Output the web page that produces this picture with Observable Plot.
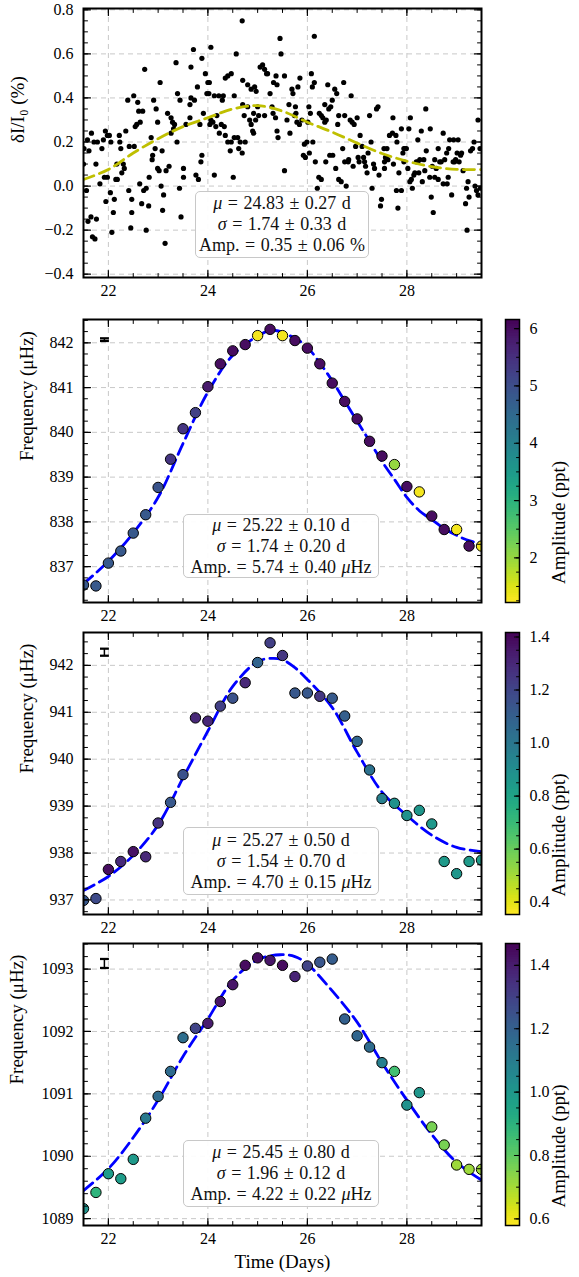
<!DOCTYPE html>
<html><head><meta charset="utf-8">
<script src="https://cdn.jsdelivr.net/npm/d3@7"></script>
<script src="https://cdn.jsdelivr.net/npm/@observablehq/plot@0.6"></script>
<style>
body{margin:0;background:#fff;}
#root{position:relative;width:579px;height:1277px;overflow:hidden;background:#fff;font-family:"Liberation Serif",serif;}
.box{position:absolute;box-sizing:border-box;background:rgba(255,255,255,0.92);border:1.3px solid #c8c8c8;border-radius:5px;display:flex;flex-direction:column;justify-content:center;align-items:center;font-family:"Liberation Serif",serif;font-size:18px;line-height:21px;color:#111;word-spacing:1px;}
</style></head><body><div id="root"></div>
<script>
// ---------- data ----------
// panel 1: relative intensity scatter (days, %)
const t1 = [
21.66,21.58,21.51,21.61,21.50,21.56,21.71,21.78,21.75,21.65,21.59,21.76,21.68,21.73,21.83,21.87,21.94,21.98,21.90,22.02,
22.05,21.92,21.98,21.95,22.04,22.12,22.10,22.07,22.15,22.18,22.17,22.22,22.23,22.25,22.30,22.32,22.27,22.35,22.39,22.41,
22.42,22.52,22.47,22.47,22.45,22.51,22.59,22.54,22.57,22.61,22.69,22.64,22.63,22.67,22.71,22.76,22.73,22.76,22.81,22.82,
22.86,22.89,22.88,22.91,22.96,22.99,22.94,22.99,23.02,23.04,23.06,23.08,23.11,23.09,23.14,23.16,23.19,23.26,23.29,23.33,
23.22,23.26,23.31,23.36,23.39,23.44,23.38,23.43,23.46,
23.51,23.51,23.56,23.66,23.64,23.73,23.66,23.71,23.64,23.76,23.81,23.79,23.84,23.86,23.88,23.88,23.91,23.95,23.98,24.02,
24.00,24.03,24.04,24.06,24.06,24.10,24.13,24.13,24.16,24.18,24.22,24.23,24.27,24.29,24.31,24.33,24.35,24.35,24.40,24.47,
24.40,24.47,24.45,24.51,24.53,24.53,24.57,24.60,24.62,24.65,24.69,24.69,24.70,24.70,24.73,24.75,24.80,24.80,24.84,24.87,
24.87,24.90,24.92,24.92,24.94,24.96,24.97,25.00,25.02,25.05,25.10,25.14,25.14,25.18,25.20,25.25,25.29,25.31,25.32,25.36,
25.37,25.39,25.39,25.41,25.45,25.47,
25.54,25.54,25.63,25.59,25.65,25.69,25.71,25.74,25.77,25.76,25.81,25.79,25.84,25.85,25.89,25.94,25.99,25.92,25.96,26.01,
26.03,26.06,26.04,26.08,26.10,26.14,26.11,26.14,26.16,26.20,26.23,26.28,26.24,26.28,26.31,26.35,26.35,26.37,26.38,26.41,
26.43,26.45,26.51,26.47,26.50,26.55,26.57,26.59,26.61,26.63,26.63,26.68,26.71,26.73,26.75,26.75,26.78,26.82,26.83,26.86,
26.88,26.90,26.92,26.94,26.97,27.00,27.02,27.04,27.06,27.10,27.13,27.15,27.17,27.20,27.22,27.25,27.28,27.30,27.33,27.35,
27.39,27.42,27.44,27.47,27.49,
27.54,27.57,27.55,27.60,27.62,27.55,27.65,27.71,27.72,27.73,27.78,27.80,27.79,27.89,27.82,27.84,27.89,27.92,27.94,27.96,
27.99,27.94,28.02,28.04,28.07,28.06,28.09,28.11,28.14,28.16,28.19,28.22,28.22,28.24,28.26,28.29,28.31,28.34,28.36,28.38,
28.39,28.46,28.47,28.49,28.51,28.53,28.56,28.56,28.59,28.63,28.63,28.66,28.69,28.73,28.73,28.76,28.80,28.81,28.83,28.84,
28.86,28.90,28.93,28.94,28.96,28.98,29.01,29.03,29.05,29.08,29.10,29.13,29.18,29.20,29.21,29.23,29.25,29.28,29.32,29.35,
29.37,29.40,29.43,29.43,29.47,29.48];
const v1 = [
0.24,0.21,0.17,0.16,0.10,-0.02,0.20,0.20,0.10,-0.14,-0.16,-0.15,-0.23,-0.24,0.01,0.17,0.25,0.23,0.21,0.23,
0.20,0.04,0.04,-0.07,-0.03,-0.06,-0.12,-0.21,0.03,0.03,0.10,0.23,0.20,0.17,0.10,0.08,0.06,0.25,0.39,-0.02,
0.18,0.18,-0.06,-0.12,-0.19,0.41,0.38,0.27,0.28,0.34,0.34,0.29,0.01,-0.08,-0.02,-0.01,0.53,-0.20,-0.09,0.04,
0.22,0.14,0.12,0.39,0.35,0.29,0.17,0.08,0.07,0.47,0.00,0.16,-0.04,-0.11,-0.26,0.07,0.33,0.31,0.29,0.28,
0.09,0.24,0.26,0.56,0.42,0.39,0.20,-0.01,-0.14,
0.08,0.04,0.28,0.40,0.37,0.39,0.54,0.62,0.31,0.05,0.03,0.45,0.28,0.11,0.14,0.58,0.33,0.51,0.42,0.42,
0.47,0.47,0.28,0.63,0.30,0.29,0.41,0.05,0.27,0.32,0.41,0.24,0.28,0.39,0.41,0.27,0.23,0.49,0.50,0.51,
0.20,0.20,0.16,0.04,0.41,0.22,0.60,0.22,0.17,0.20,0.15,0.75,0.48,0.37,0.32,0.20,0.46,0.36,0.30,0.28,
0.44,0.25,0.24,0.33,0.45,0.30,0.43,0.36,0.32,0.54,0.55,0.53,0.32,0.51,0.51,0.42,0.36,0.33,0.47,0.31,
0.50,0.46,0.25,0.22,0.67,0.60,
0.50,0.07,0.37,0.30,0.24,0.44,0.42,0.32,0.33,0.36,0.45,0.29,0.28,0.49,0.30,0.19,0.20,0.14,0.13,0.29,
0.36,0.33,0.15,0.51,0.45,0.47,0.20,0.68,0.11,-0.01,0.04,0.03,0.33,0.32,0.31,0.29,0.37,0.11,0.30,0.46,
0.35,0.14,0.14,0.36,0.39,0.44,0.08,0.42,0.28,0.32,0.03,0.02,0.17,0.47,0.32,0.11,0.00,0.11,0.12,0.30,
0.41,0.29,0.09,0.28,0.18,0.31,0.13,0.11,0.23,0.18,0.13,0.11,0.09,0.06,0.15,0.32,0.20,-0.01,0.10,0.08,
0.35,0.36,0.05,-0.09,-0.06,
0.17,0.13,0.11,0.17,0.12,0.08,0.23,0.24,0.31,0.10,0.23,0.20,-0.02,-0.02,-0.10,0.06,0.26,0.15,0.17,0.17,
0.17,0.11,0.08,0.26,0.31,0.02,0.03,-0.01,0.05,0.06,0.11,0.11,0.21,0.06,0.12,0.25,0.02,0.12,0.07,0.35,
0.16,0.04,0.26,-0.05,0.09,-0.12,0.04,0.12,0.08,0.17,0.03,0.11,0.11,0.24,0.01,0.12,0.15,0.01,0.04,0.17,
0.21,-0.04,0.11,0.21,0.11,0.12,0.15,0.21,0.11,0.14,0.15,0.07,-0.08,-0.01,-0.20,0.02,-0.05,0.16,0.17,0.20,
0.00,-0.02,0.30,-0.04,0.17,-0.01];
// panel 1 fitted curve
const fit1T = [21.5,22.0,22.5,23.0,23.5,24.0,24.5,25.0,25.5,26.0,26.5,27.0,27.5,28.0,28.5,29.0,29.5];
const fit1V = [0.03,0.075,0.15,0.215,0.27,0.31,0.35,0.365,0.34,0.29,0.245,0.195,0.148,0.113,0.088,0.076,0.075];

// panels 2-4: mode frequencies (days shared)
const days = [21.5,21.75,22.0,22.25,22.5,22.75,23.0,23.25,23.5,23.75,24.0,24.25,24.5,24.75,25.0,25.25,25.5,
              25.75,26.0,26.25,26.5,26.75,27.0,27.25,27.5,27.75,28.0,28.25,28.5,28.75,29.0,29.25,29.5];
const freq2 = [836.59,836.57,837.08,837.35,837.75,838.16,838.77,839.40,840.08,840.44,841.02,841.53,841.82,841.96,842.16,842.30,842.16,
               842.05,841.88,841.53,841.10,840.69,840.30,839.80,839.47,839.28,838.79,838.67,838.13,837.83,837.83,837.46,837.46];
const amp2  = [4.8,4.8,4.8,4.8,4.8,4.8,4.9,5.4,5.4,5.2,5.8,6.0,6.0,6.0,1.3,6.0,1.3,
               6.0,6.0,6.0,6.0,6.0,6.0,6.0,6.0,2.0,6.0,1.3,6.0,6.0,1.3,6.0,1.3];
const freq3 = [936.99,937.03,937.65,937.82,938.03,937.92,938.64,939.08,939.67,940.88,940.81,941.13,941.30,941.63,942.06,942.48,942.21,
               941.41,941.41,941.34,941.30,940.92,940.38,939.77,939.16,939.06,938.80,938.91,938.62,937.82,937.56,937.82,937.85];
const amp3  = [1.13,1.18,1.38,1.29,1.37,1.30,1.26,1.13,1.15,1.30,1.30,1.22,1.15,1.30,1.08,1.22,1.25,
               1.13,1.13,1.25,1.12,1.10,1.07,1.02,0.96,0.88,0.88,0.86,0.85,0.84,0.86,0.84,0.84];
const freq4 = [1089.16,1089.42,1089.72,1089.64,1089.95,1090.61,1090.96,1091.36,1091.90,1092.05,1092.13,1092.48,1092.75,1093.06,1093.18,1093.14,1093.06,
               1092.88,1093.05,1093.11,1093.16,1092.20,1091.93,1091.75,1091.50,1091.36,1090.82,1091.02,1090.47,1090.18,1089.86,1089.79,1089.79];
const amp4  = [1.02,0.89,0.98,0.98,0.99,1.11,1.16,1.16,1.15,1.29,1.40,1.42,1.42,1.44,1.44,1.42,1.44,
               1.38,1.29,1.23,1.21,1.20,1.18,1.16,1.09,0.85,1.02,1.00,0.76,0.76,0.71,0.71,0.71];

// fitted Gaussian curves
const fit2T = [21.5,22.0,22.5,23.0,23.5,24.0,24.5,25.0,25.3,25.75,26.0,26.25,26.5,26.75,27.0,27.25,27.5,27.75,28.0,28.25,28.5,28.75,29.0,29.25,29.5];
const fit2F = [836.62,837.12,837.75,838.55,839.75,840.9,841.72,842.15,842.28,842.1,841.9,841.55,841.15,840.7,840.25,839.8,839.35,838.95,838.55,838.25,838.05,837.85,837.7,837.58,837.52];
const fit3T = [21.5,22.0,22.5,23.0,23.5,24.0,24.5,25.0,25.3,25.5,25.75,26.0,26.5,27.0,27.5,28.0,28.5,29.0,29.5];
const fit3F = [937.2,937.5,937.95,938.6,939.6,940.6,941.55,942.08,942.15,942.12,941.95,941.7,941.1,940.15,939.3,938.8,938.38,938.12,938.03];
const fit4T = [21.5,22.0,22.5,23.0,23.5,24.0,24.5,25.0,25.45,25.75,26.0,26.5,27.0,27.5,28.0,28.5,29.0,29.5];
const fit4F = [1089.45,1089.8,1090.3,1090.9,1091.6,1092.2,1092.82,1093.15,1093.23,1093.2,1093.08,1092.65,1092.15,1091.5,1090.9,1090.35,1089.9,1089.62];

// representative error bars (day, frequency, half-height)
const errT = [21.92, 21.92, 21.92];
const errF = [842.07, 942.28, 1093.09];
const errE = [0.03, 0.075, 0.072];

// fit parameters
const fitMu   = ["24.83","25.22","25.27","25.45"];
const fitMuE  = ["0.27","0.10","0.50","0.80"];
const fitSig  = ["1.74","1.74","1.54","1.96"];
const fitSigE = ["0.33","0.20","0.70","0.12"];
const fitAmp  = ["0.35","5.74","4.70","4.22"];
const fitAmpE = ["0.06","0.40","0.15","0.22"];
const fitUnit = ["%","μHz","μHz","μHz"];

// axes
const xMajor = [22,24,26,28];
const y1Major = [-0.4,-0.2,0.0,0.2,0.4,0.6,0.8];
const y2Major = [837,838,839,840,841,842];
const y3Major = [937,938,939,940,941,942];
const y4Major = [1089,1090,1091,1092,1093];
const c2Major = [2,3,4,5,6];
const c3Major = [0.4,0.6,0.8,1.0,1.2,1.4];
const c4Major = [0.6,0.8,1.0,1.2,1.4];

// ---------- drawing ----------
const root = document.getElementById("root");
const FONT = "Liberation Serif, serif";
const TICK_FS = 16, LABEL_FS = 19;
const X_DOMAIN = [21.5, 29.5];
const L = 83, R = 481;          // frame edges
const inDom = (arr, d) => arr.filter(v => v >= Math.min(...d) - 1e-9 && v <= Math.max(...d) + 1e-9);
const minorOf = (d, step) => inDom(d3.range(Math.ceil(d[0] / step) * step, d[1] + 1e-9, step).map(v => +v.toFixed(6)), d);

function place(el, top, left = 0) {
  el.style.position = "absolute"; el.style.top = top + "px"; el.style.left = left + "px";
  root.appendChild(el);
}

// inward tick marks drawn as vectors anchored on the frame
const TICK = {draw(ctx, l) { ctx.moveTo(0, 0); ctx.lineTo(0, -l); }};
const ROT = {bottom: 0, top: 180, left: 90, right: -90};
const ticks = (data, side, length, sw = 1) => Plot.vector(data, {
  [side === "bottom" || side === "top" ? "x" : "y"]: d => d,
  frameAnchor: side, rotate: ROT[side], length, anchor: "start", shape: TICK,
  stroke: "black", fill: "none", strokeWidth: sw
});
const textX = (data, o) => Plot.axisX(data, {tickSize: 0, label: null, fill: "black", ...o});
const textY = (data, o) => Plot.axisY(data, {tickSize: 0, label: null, fill: "black", ...o});

function frameTicks(xMaj, xMin, yMaj, yMin) {
  return [
    ticks(xMin, "bottom", 4), ticks(xMin, "top", 4),
    ticks(xMaj, "bottom", 7, 1.2), ticks(xMaj, "top", 7, 1.2),
    ticks(yMin, "left", 4), ticks(yMin, "right", 4),
    ticks(yMaj, "left", 7, 1.2), ticks(yMaj, "right", 7, 1.2)
  ];
}

function mainPanel(cfg) {
  const {fTop, fBot, yDomain, yMajor, yMinorStep, yFormat, dataMarks, ylabel, ylabelDx, color, xlabel} = cfg;
  const mt = 12, mb = 60;
  const marks = [
    Plot.gridX(xMajor, {stroke: "#c8c8c8", strokeOpacity: 1, strokeWidth: 1, strokeDasharray: "5,4"}),
    Plot.gridY(yMajor, {stroke: "#c8c8c8", strokeOpacity: 1, strokeWidth: 1, strokeDasharray: "5,4"}),
    ...dataMarks,
    ...frameTicks(xMajor, minorOf(X_DOMAIN, 0.5), yMajor, minorOf(yDomain, yMinorStep)),
    textX(xMajor, {anchor: "bottom", tickPadding: 7, fontSize: TICK_FS}),
    textY(yMajor, {anchor: "left", tickPadding: 10, fontSize: TICK_FS, tickFormat: yFormat}),
    Plot.frame({stroke: "black", strokeWidth: 2}),
    Plot.text([ylabel], {frameAnchor: "left", rotate: -90, dx: ylabelDx, fontSize: LABEL_FS, text: d => d, fill: "black"})
  ];
  if (xlabel) marks.push(Plot.text([xlabel], {frameAnchor: "bottom", dy: 42, fontSize: LABEL_FS, text: d => d, fill: "black"}));
  const svg = Plot.plot({
    width: 579, height: (fBot - fTop) + mt + mb,
    marginTop: mt, marginBottom: mb, marginLeft: L, marginRight: 579 - R,
    style: {background: "transparent", fontFamily: FONT, fontSize: TICK_FS + "px", color: "black", overflow: "visible"},
    x: {domain: X_DOMAIN, axis: null},
    y: {domain: yDomain, axis: null},
    color: color || undefined,
    marks
  });
  place(svg, fTop - mt);
}

function colorbar({fTop, fBot, domain, major, minorStep, fmt}) {
  const mt = 12, mb = 12, cl = 505, cr = 519;
  const n = 120, step = (domain[1] - domain[0]) / n;
  const stripes = d3.range(n).map(i => domain[0] + i * step);
  const svg = Plot.plot({
    width: 579, height: (fBot - fTop) + mt + mb,
    marginTop: mt, marginBottom: mb, marginLeft: cl, marginRight: 579 - cr,
    style: {background: "transparent", fontFamily: FONT, fontSize: TICK_FS + "px", color: "black", overflow: "visible"},
    x: {domain: [0, 1], axis: null},
    y: {domain, axis: null},
    color: {type: "linear", scheme: "viridis", reverse: true, domain},
    marks: [
      Plot.rect(stripes, {x1: 0, x2: 1, y1: d => d, y2: d => Math.min(domain[1], d + step * 2.2), fill: d => d + step / 2, shapeRendering: "crispEdges"}),
      ticks(minorOf(domain, minorStep), "right", 3),
      ticks(major, "right", 5, 1.2),
      textY(major, {anchor: "right", tickPadding: 10, fontSize: TICK_FS, tickFormat: fmt}),
      Plot.frame({stroke: "black", strokeWidth: 1.5}),
      Plot.text(["Amplitude (ppt)"], {frameAnchor: "right", rotate: -90, dx: 39, fontSize: LABEL_FS, text: d => d, fill: "black"})
    ]
  });
  place(svg, fTop - mt);
}

function textBox(i, left, top, w, h) {
  const d = document.createElement("div");
  d.className = "box";
  d.style.left = left + "px"; d.style.top = top + "px"; d.style.width = w + "px"; d.style.height = h + "px";
  const unit = fitUnit[i] === "μHz" ? "<i>μ</i>Hz" : fitUnit[i];
  d.innerHTML =
    `<div><i>μ</i> = ${fitMu[i]} ± ${fitMuE[i]} d</div>` +
    `<div><i>σ</i> = ${fitSig[i]} ± ${fitSigE[i]} d</div>` +
    `<div>Amp. = ${fitAmp[i]} ± ${fitAmpE[i]} ${unit}</div>`;
  root.appendChild(d);
}

// panel 1
const pts1 = t1.map((t, i) => ({t, v: v1[i]}));
const fit1 = fit1T.map((t, i) => ({t, v: fit1V[i]}));
mainPanel({
  fTop: 8, fBot: 277, yDomain: [-0.415, 0.806], yMajor: y1Major, yMinorStep: 0.05,
  yFormat: d3.format(".1f"), ylabel: "δI/I₀ (%)", ylabelDx: -66,
  dataMarks: [
    Plot.dot(pts1, {x: "t", y: "v", r: 2.6, fill: "black", stroke: null, clip: true}),
    Plot.line(fit1, {x: "t", y: "v", stroke: "#bfbf00", strokeWidth: 2.8, strokeDasharray: "11,6", curve: "catmull-rom", clip: true})
  ]
});
textBox(0, 195, 191, 174, 67);

// panels 2-4
const panels = [
  {freq: freq2, amp: amp2, fitT: fit2T, fitF: fit2F, fTop: 319, fBot: 602, yDomain: [836.2, 842.52], yMajor: y2Major, yMinorStep: 0.25,
   cDomain: [1.22, 6.16], cMajor: c2Major, cMinor: 0.25, cFmt: d3.format("d"), box: [183, 514, 196, 64], ylabelDx: -57},
  {freq: freq3, amp: amp3, fitT: fit3T, fitF: fit3F, fTop: 632, fBot: 914, yDomain: [936.69, 942.70], yMajor: y3Major, yMinorStep: 0.25,
   cDomain: [0.353, 1.417], cMajor: c3Major, cMinor: 0.05, cFmt: d3.format(".1f"), box: [183, 827, 196, 68], ylabelDx: -57},
  {freq: freq4, amp: amp4, fitT: fit4T, fitF: fit4F, fTop: 943, fBot: 1225, yDomain: [1088.89, 1093.41], yMajor: y4Major, yMinorStep: 0.2,
   cDomain: [0.579, 1.469], cMajor: c4Major, cMinor: 0.05, cFmt: d3.format(".1f"), box: [183, 1140, 196, 67], ylabelDx: -67, xlabel: "Time (Days)"}
];
panels.forEach((p, k) => {
  const pts = days.map((t, i) => ({t, f: p.freq[i], a: p.amp[i]}));
  const fit = p.fitT.map((t, i) => ({t, f: p.fitF[i]}));
  const err = [{t: errT[k], f: errF[k], e: errE[k]}];
  mainPanel({
    fTop: p.fTop, fBot: p.fBot, yDomain: p.yDomain, yMajor: p.yMajor, yMinorStep: p.yMinorStep,
    yFormat: d3.format("d"), ylabel: "Frequency (μHz)", ylabelDx: p.ylabelDx, xlabel: p.xlabel,
    color: {type: "linear", scheme: "viridis", reverse: true, domain: p.cDomain},
    dataMarks: [
      Plot.line(fit, {x: "t", y: "f", stroke: "#0000ff", strokeWidth: 2.8, strokeDasharray: "12,6", curve: "catmull-rom", clip: true}),
      Plot.dot(pts, {x: "t", y: "f", r: 5.2, fill: "a", stroke: "black", strokeWidth: 1, clip: true}),
      Plot.link(err, {x1: "t", x2: "t", y1: d => d.f - d.e, y2: d => d.f + d.e, stroke: "black", strokeWidth: 1.5, markerStart: "tick", markerEnd: "tick"})
    ]
  });
  colorbar({fTop: p.fTop, fBot: p.fBot, domain: p.cDomain, major: p.cMajor, minorStep: p.cMinor, fmt: p.cFmt});
  textBox(k + 1, ...p.box);
});
</script></body></html>
